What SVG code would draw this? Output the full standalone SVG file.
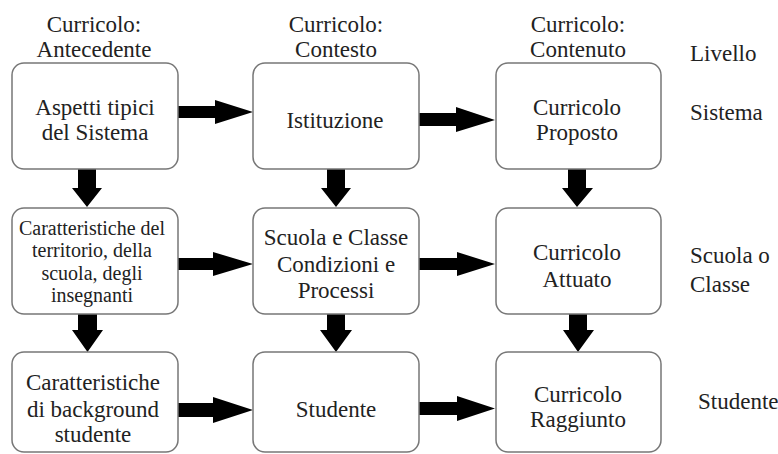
<svg xmlns="http://www.w3.org/2000/svg" width="778" height="454" viewBox="0 0 778 454">
<rect width="778" height="454" fill="#fff"/>
<g id="headers">
<text font-family="Liberation Serif" font-size="23" fill="#222" text-anchor="middle" x="94" y="32">Curricolo:</text>
<text font-family="Liberation Serif" font-size="23" fill="#222" text-anchor="middle" x="94" y="57">Antecedente</text>
<text font-family="Liberation Serif" font-size="23" fill="#222" text-anchor="middle" x="336" y="32">Curricolo:</text>
<text font-family="Liberation Serif" font-size="23" fill="#222" text-anchor="middle" x="336" y="57">Contesto</text>
<text font-family="Liberation Serif" font-size="23" fill="#222" text-anchor="middle" x="578" y="32">Curricolo:</text>
<text font-family="Liberation Serif" font-size="23" fill="#222" text-anchor="middle" x="578" y="57">Contenuto</text>
</g>
<g id="levels">
<text font-family="Liberation Serif" font-size="23" fill="#222" x="690" y="61">Livello</text>
<text font-family="Liberation Serif" font-size="23" fill="#222" x="690" y="120">Sistema</text>
<text font-family="Liberation Serif" font-size="23" fill="#222" x="690" y="263">Scuola o</text>
<text font-family="Liberation Serif" font-size="23" fill="#222" x="690" y="292">Classe</text>
<text font-family="Liberation Serif" font-size="23" fill="#222" x="698" y="409">Studente</text>
</g>
<g id="connectors" fill="#000">
<polygon points="178,106 215,106 215,100 253,112 215,124 215,118 178,118"/>
<polygon points="419,113 456,113 456,107 495,120 456,132 456,126 419,126"/>
<polygon points="178,258 213,258 213,252 253,264 213,276 213,270 178,270"/>
<polygon points="419,258 457,258 457,252 495,264 457,276 457,270 419,270"/>
<polygon points="178,403 213,403 213,397 253,410 213,423 213,417 178,417"/>
<polygon points="419,402 457,402 457,396 495,408.5 457,421 457,415 419,415"/>
<polygon points="78,169 96,169 96,188 102,188 87,207 72,188 78,188"/>
<polygon points="78,314 97,314 97,330 103,330 87.5,352 72,330 78,330"/>
<polygon points="327,169 345,169 345,188 351,188 336,207 321,188 327,188"/>
<polygon points="327,314 345,314 345,330 352,330 336,352 320,330 327,330"/>
<polygon points="568,169 586,169 586,188 593,188 577,207 562,188 568,188"/>
<polygon points="569,314 587,314 587,330 594,330 578,352 563,330 569,330"/>
</g>
<g id="n_aspetti">
<rect x="12" y="63" width="166" height="106" rx="12" fill="#fff" stroke="#777" stroke-width="1.5"/>
<text font-family="Liberation Serif" font-size="23" fill="#222" text-anchor="middle" x="95" y="115">Aspetti tipici</text>
<text font-family="Liberation Serif" font-size="23" fill="#222" text-anchor="middle" x="95" y="140">del Sistema</text>
</g>
<g id="n_istituzione">
<rect x="253" y="63" width="166" height="106" rx="12" fill="#fff" stroke="#777" stroke-width="1.5"/>
<text font-family="Liberation Serif" font-size="23" fill="#222" text-anchor="middle" x="335" y="128">Istituzione</text>
</g>
<g id="n_proposto">
<rect x="496" y="63" width="165" height="106" rx="12" fill="#fff" stroke="#777" stroke-width="1.5"/>
<text font-family="Liberation Serif" font-size="23" fill="#222" text-anchor="middle" x="577" y="115">Curricolo</text>
<text font-family="Liberation Serif" font-size="23" fill="#222" text-anchor="middle" x="577" y="140">Proposto</text>
</g>
<g id="n_territorio">
<rect x="12" y="208" width="166" height="106" rx="12" fill="#fff" stroke="#777" stroke-width="1.5"/>
<text font-family="Liberation Serif" font-size="20" fill="#222" text-anchor="middle" x="92" y="235">Caratteristiche del</text>
<text font-family="Liberation Serif" font-size="20" fill="#222" text-anchor="middle" x="92" y="257">territorio, della</text>
<text font-family="Liberation Serif" font-size="20" fill="#222" text-anchor="middle" x="92" y="280">scuola, degli</text>
<text font-family="Liberation Serif" font-size="20" fill="#222" text-anchor="middle" x="92" y="302">insegnanti</text>
</g>
<g id="n_scuola">
<rect x="253" y="208" width="166" height="106" rx="12" fill="#fff" stroke="#777" stroke-width="1.5"/>
<text font-family="Liberation Serif" font-size="23" fill="#222" text-anchor="middle" x="336" y="245">Scuola e Classe</text>
<text font-family="Liberation Serif" font-size="23" fill="#222" text-anchor="middle" x="336" y="272">Condizioni e</text>
<text font-family="Liberation Serif" font-size="23" fill="#222" text-anchor="middle" x="336" y="298">Processi</text>
</g>
<g id="n_attuato">
<rect x="496" y="208" width="165" height="106" rx="12" fill="#fff" stroke="#777" stroke-width="1.5"/>
<text font-family="Liberation Serif" font-size="23" fill="#222" text-anchor="middle" x="577" y="260">Curricolo</text>
<text font-family="Liberation Serif" font-size="23" fill="#222" text-anchor="middle" x="577" y="287">Attuato</text>
</g>
<g id="n_background">
<rect x="12" y="352" width="166" height="100" rx="12" fill="#fff" stroke="#777" stroke-width="1.5"/>
<text font-family="Liberation Serif" font-size="23" fill="#222" text-anchor="middle" x="93" y="390">Caratteristiche</text>
<text font-family="Liberation Serif" font-size="23" fill="#222" text-anchor="middle" x="93" y="417">di background</text>
<text font-family="Liberation Serif" font-size="23" fill="#222" text-anchor="middle" x="93" y="442">studente</text>
</g>
<g id="n_studente">
<rect x="253" y="352" width="166" height="100" rx="12" fill="#fff" stroke="#777" stroke-width="1.5"/>
<text font-family="Liberation Serif" font-size="23" fill="#222" text-anchor="middle" x="336" y="417">Studente</text>
</g>
<g id="n_raggiunto">
<rect x="496" y="352" width="165" height="100" rx="12" fill="#fff" stroke="#777" stroke-width="1.5"/>
<text font-family="Liberation Serif" font-size="23" fill="#222" text-anchor="middle" x="578" y="402">Curricolo</text>
<text font-family="Liberation Serif" font-size="23" fill="#222" text-anchor="middle" x="578" y="427">Raggiunto</text>
</g>
</svg>
